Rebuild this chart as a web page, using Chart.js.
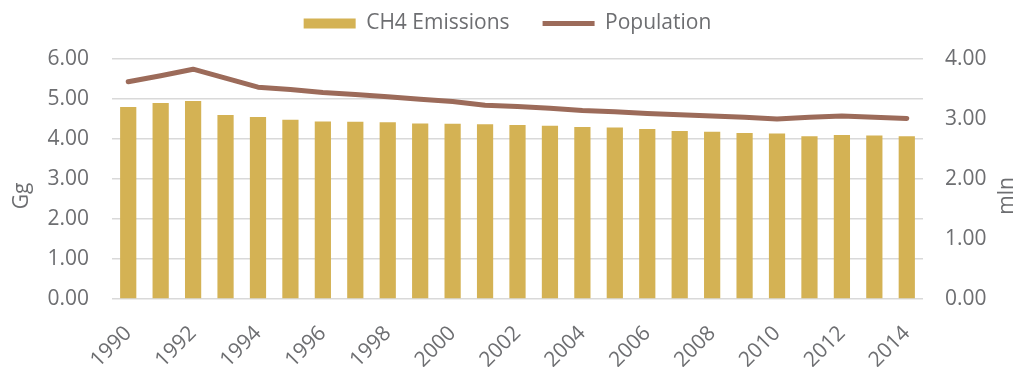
<!DOCTYPE html>
<html lang="en">
  <head>
    <meta charset="UTF-8" />
    <title>CH4 Emissions and Population</title>
    <script src="https://cdn.jsdelivr.net/npm/chart.js"></script>
    <style>
      body { margin: 0; background: #fff; }
      .chart-box { width: 1015px; height: 367px; position: relative; }
    </style>
  </head>
  <body>
    <div class="chart-box"><canvas id="chart"></canvas></div>

    <script>
      const years = [
        "1990", "1991", "1992", "1993", "1994", "1995", "1996", "1997", "1998",
        "1999", "2000", "2001", "2002", "2003", "2004", "2005", "2006", "2007",
        "2008", "2009", "2010", "2011", "2012", "2013", "2014"
      ];
      const ch4Emissions = [
        4.80, 4.90, 4.95, 4.60, 4.55, 4.48, 4.44, 4.43, 4.42, 4.39, 4.38, 4.37,
        4.35, 4.33, 4.30, 4.29, 4.25, 4.20, 4.18, 4.15, 4.14, 4.07, 4.10, 4.09, 4.07
      ];
      const population = [
        3.62, 3.72, 3.83, 3.68, 3.53, 3.49, 3.44, 3.41, 3.37, 3.33, 3.29, 3.23,
        3.21, 3.18, 3.14, 3.12, 3.09, 3.07, 3.05, 3.03, 3.00, 3.03, 3.05, 3.03, 3.01
      ];

      const textColor = "#6d6e71";
      const fontFamily = "'Open Sans', sans-serif";
      Chart.defaults.font.family = fontFamily;
      Chart.defaults.font.size = 21;
      Chart.defaults.color = textColor;

      // fixed legend height so the plot lands where the original has it
      const legendHeight = {
        id: "legendHeight",
        beforeInit(chart) {
          const fit = chart.legend.fit;
          chart.legend.fit = function () {
            fit.bind(chart.legend)();
            this.height = 79;
          };
        },
      };

      // axis titles, both read bottom to top
      const axisTitles = {
        id: "axisTitles",
        afterDraw(chart) {
          const ctx = chart.ctx;
          ctx.save();
          ctx.fillStyle = textColor;
          ctx.font = "21px " + fontFamily;
          ctx.textAlign = "center";
          ctx.textBaseline = "alphabetic";
          [["Gg", 28], ["mln", 1013]].forEach(([t, x]) => {
            ctx.save();
            ctx.translate(x, 196);
            ctx.rotate(-Math.PI / 2);
            ctx.fillText(t, 0, 0);
            ctx.restore();
          });
          ctx.restore();
        },
      };

      new Chart(document.getElementById("chart"), {
        type: "bar",
        data: {
          labels: years,
          datasets: [
            {
              type: "bar",
              label: "CH4 Emissions",
              data: ch4Emissions,
              backgroundColor: "#d4b254",
              borderWidth: 0,
              barPercentage: 0.5,
              categoryPercentage: 1,
              pointStyle: "rect",
              yAxisID: "y",
            },
            {
              type: "line",
              label: "Population",
              data: population,
              borderColor: "#9c6b5a",
              backgroundColor: "#9c6b5a",
              borderWidth: 5,
              borderCapStyle: "round",
              borderJoinStyle: "round",
              pointRadius: 0,
              pointStyle: "line",
              tension: 0,
              yAxisID: "y1",
            },
          ],
        },
        options: {
          responsive: true,
          maintainAspectRatio: false,
          animation: false,
          layout: { padding: { top: -20, left: 0, right: 0, bottom: 0 } },
          plugins: {
            legend: {
              position: "top",
              labels: {
                usePointStyle: true,
                pointStyleWidth: 52,
                boxWidth: 52,
                boxHeight: 10,
                padding: 33,
                color: textColor,
                font: { size: 21 },
              },
            },
            tooltip: { enabled: false },
          },
          scales: {
            x: {
              grid: { display: false, drawTicks: false },
              border: { display: false },
              ticks: {
                autoSkip: false,
                minRotation: 45,
                maxRotation: 45,
                padding: 22,
                color: textColor,
                callback: function (value, index) {
                  return index % 2 === 0 ? this.getLabelForValue(value) : "";
                },
              },
              afterFit: (scale) => { scale.height = 68; },
            },
            y: {
              position: "left",
              min: 0,
              max: 6,
              ticks: {
                stepSize: 1,
                padding: 23,
                color: textColor,
                callback: (v) => v.toFixed(2),
              },
              grid: { color: "#d9d9d9", lineWidth: 1.5, drawTicks: false },
              border: { display: false },
              afterFit: (scale) => { scale.width = 112; },
            },
            y1: {
              position: "right",
              min: 0,
              max: 4,
              ticks: {
                stepSize: 1,
                padding: 22,
                color: textColor,
                callback: (v) => v.toFixed(2),
              },
              grid: { drawOnChartArea: false, drawTicks: false },
              border: { display: false },
              afterFit: (scale) => { scale.width = 92; },
            },
          },
        },
        plugins: [legendHeight, axisTitles],
      });
    </script>
  </body>
</html>
